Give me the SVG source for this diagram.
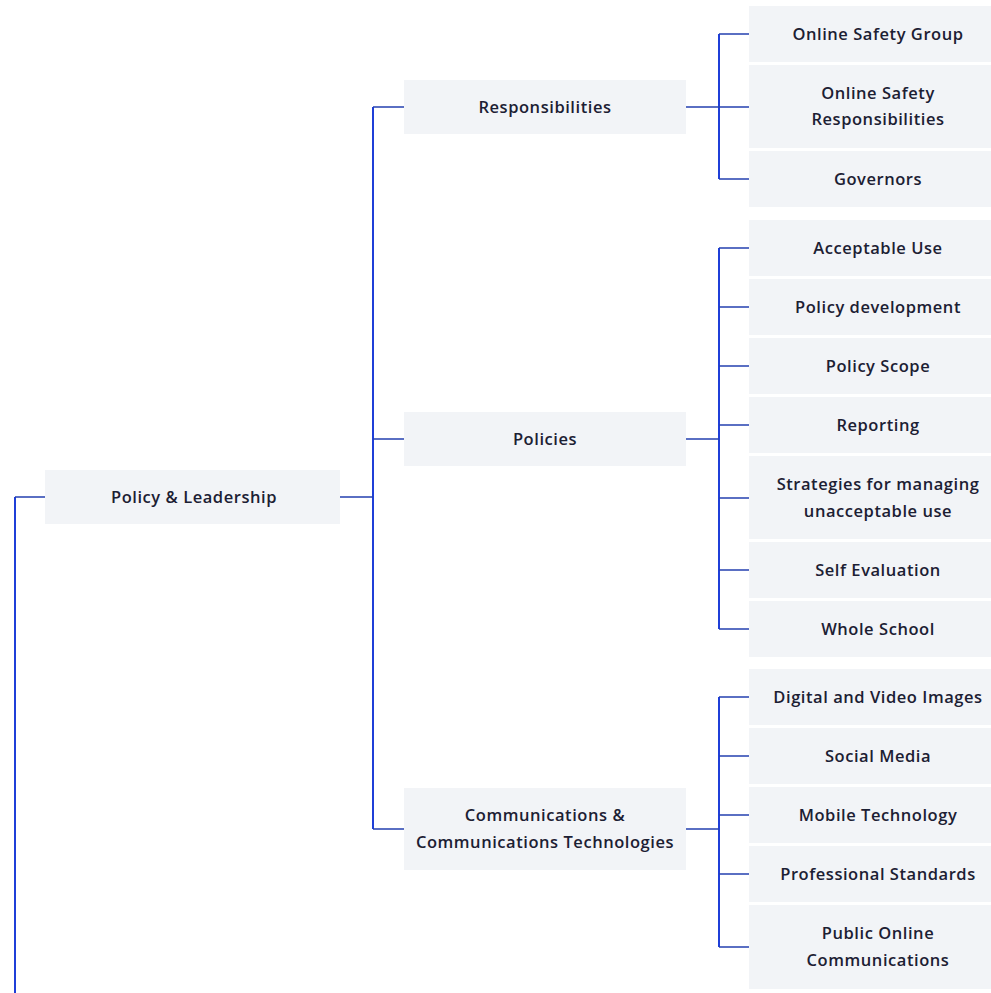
<svg xmlns="http://www.w3.org/2000/svg" width="991" height="993" viewBox="0 0 991 993">
<style>
.box{fill:#f2f4f7}
.t{font-family:"Open Sans","Liberation Sans",sans-serif;font-size:16.5px;font-weight:600;letter-spacing:0.55px;fill:#1c2033;text-anchor:middle}
.v{stroke:#1f3fd8;stroke-width:2;fill:none}
.h{stroke:#2440b0;stroke-width:1.5;fill:none}
</style>
<rect width="991" height="993" fill="#ffffff"/>
<g id="connectors">
<path class="v" d="M15 497V993M373 107V829M719 34V179M719 248V629M719 697V947"/>
<path class="h" d="M15 497H45M340 497H373M373 107H404M373 439H404M373 829H404M686 107H749M686 439H719M686 829H719M719 34H749M719 179H749M719 248H749M719 307H749M719 366H749M719 425H749M719 498H749M719 570H749M719 629H749M719 697H749M719 756H749M719 815H749M719 874H749M719 947H749"/>
</g>
<g id="policy-leadership"><rect class="box" x="45" y="470" width="295" height="54"/><text class="t" x="194" y="503">Policy &amp; Leadership</text></g>
<g id="responsibilities"><rect class="box" x="404" y="80" width="282" height="54"/><text class="t" x="545" y="113">Responsibilities</text></g>
<g id="policies"><rect class="box" x="404" y="412" width="282" height="54"/><text class="t" x="545" y="445">Policies</text></g>
<g id="communications"><rect class="box" x="404" y="788" width="282" height="82"/><text class="t" x="545" y="821">Communications &amp;</text><text class="t" x="545" y="848">Communications Technologies</text></g>
<g id="online-safety-group"><rect class="box" x="749" y="6" width="242" height="56"/><text class="t" x="878" y="40">Online Safety Group</text></g>
<g id="online-safety-responsibilities"><rect class="box" x="749" y="65" width="242" height="83"/><text class="t" x="878" y="99">Online Safety</text><text class="t" x="878" y="125">Responsibilities</text></g>
<g id="governors"><rect class="box" x="749" y="151" width="242" height="56"/><text class="t" x="878" y="185">Governors</text></g>
<g id="acceptable-use"><rect class="box" x="749" y="220" width="242" height="56"/><text class="t" x="878" y="254">Acceptable Use</text></g>
<g id="policy-development"><rect class="box" x="749" y="279" width="242" height="56"/><text class="t" x="878" y="313">Policy development</text></g>
<g id="policy-scope"><rect class="box" x="749" y="338" width="242" height="56"/><text class="t" x="878" y="372">Policy Scope</text></g>
<g id="reporting"><rect class="box" x="749" y="397" width="242" height="56"/><text class="t" x="878" y="431">Reporting</text></g>
<g id="strategies"><rect class="box" x="749" y="456" width="242" height="83"/><text class="t" x="878" y="490">Strategies for managing</text><text class="t" x="878" y="517">unacceptable use</text></g>
<g id="self-evaluation"><rect class="box" x="749" y="542" width="242" height="56"/><text class="t" x="878" y="576">Self Evaluation</text></g>
<g id="whole-school"><rect class="box" x="749" y="601" width="242" height="56"/><text class="t" x="878" y="635">Whole School</text></g>
<g id="digital-video"><rect class="box" x="749" y="669" width="242" height="56"/><text class="t" x="878" y="703">Digital and Video Images</text></g>
<g id="social-media"><rect class="box" x="749" y="728" width="242" height="56"/><text class="t" x="878" y="762">Social Media</text></g>
<g id="mobile-technology"><rect class="box" x="749" y="787" width="242" height="56"/><text class="t" x="878" y="821">Mobile Technology</text></g>
<g id="professional-standards"><rect class="box" x="749" y="846" width="242" height="56"/><text class="t" x="878" y="880">Professional Standards</text></g>
<g id="public-online"><rect class="box" x="749" y="905" width="242" height="84"/><text class="t" x="878" y="939">Public Online</text><text class="t" x="878" y="966">Communications</text></g>
</svg>
